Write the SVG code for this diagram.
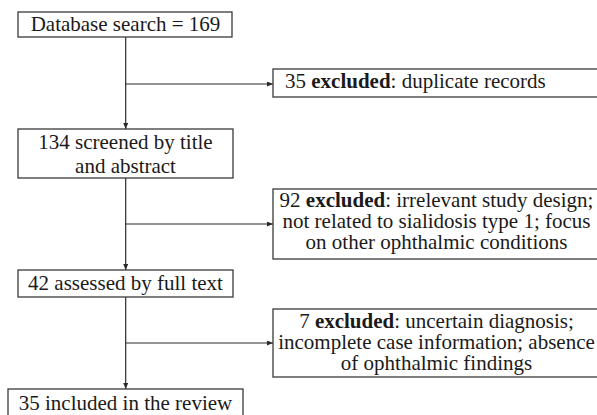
<svg xmlns="http://www.w3.org/2000/svg" width="597" height="415" viewBox="0 0 597 415">
<style>
.box{fill:#fff;stroke:#3a3a3a;stroke-width:1.3}
.t{font-family:"Liberation Serif","Times New Roman",serif;font-size:21px;fill:#1a1a1a}
.c{text-anchor:middle}
.b{font-weight:bold}
.ln{stroke:#2a2a2a;stroke-width:1.2;fill:none}
</style>
<defs>
<marker id="ah" markerUnits="userSpaceOnUse" markerWidth="6" markerHeight="5" refX="6" refY="2.5" orient="auto">
<path d="M0,0 L6,2.5 L0,5 z" fill="#2a2a2a"/>
</marker>
</defs>
<rect width="597" height="415" fill="#fff"/>
<g id="connectors">
<line class="ln" x1="125.7" y1="37" x2="125.7" y2="129" marker-end="url(#ah)"/>
<line class="ln" x1="125.7" y1="84" x2="273" y2="84" marker-end="url(#ah)"/>
<line class="ln" x1="125.7" y1="178" x2="125.7" y2="270" marker-end="url(#ah)"/>
<line class="ln" x1="125.7" y1="224" x2="273" y2="224" marker-end="url(#ah)"/>
<line class="ln" x1="125.7" y1="297" x2="125.7" y2="389" marker-end="url(#ah)"/>
<line class="ln" x1="125.7" y1="343" x2="273" y2="343" marker-end="url(#ah)"/>
</g>
<g id="n1">
<rect class="box" x="18" y="12" width="214" height="25"/>
<text class="t c" x="125.5" y="31">Database search = 169</text>
</g>
<g id="n2">
<rect class="box" x="273" y="69" width="330" height="28"/>
<text class="t" x="285" y="88">35 <tspan class="b">excluded</tspan>: duplicate records</text>
</g>
<g id="n3">
<rect class="box" x="18" y="129" width="215" height="49"/>
<text class="t c" x="125.5" y="149">134 screened by title</text>
<text class="t c" x="125.5" y="173">and abstract</text>
</g>
<g id="n4">
<rect class="box" x="273" y="189" width="330" height="70"/>
<text class="t c" x="436.5" y="207">92 <tspan class="b">excluded</tspan>: irrelevant study design;</text>
<text class="t c" x="436.5" y="228">not related to sialidosis type 1; focus</text>
<text class="t c" x="436.5" y="249">on other ophthalmic conditions</text>
</g>
<g id="n5">
<rect class="box" x="18" y="270" width="215" height="27"/>
<text class="t c" x="125.5" y="290">42 assessed by full text</text>
</g>
<g id="n6">
<rect class="box" x="273" y="309" width="330" height="68"/>
<text class="t c" x="436.5" y="328">7 <tspan class="b">excluded</tspan>: uncertain diagnosis;</text>
<text class="t c" x="436.5" y="348.5">incomplete case information; absence</text>
<text class="t c" x="436.5" y="369.5">of ophthalmic findings</text>
</g>
<g id="n7">
<rect class="box" x="8" y="389" width="235" height="30"/>
<text class="t c" x="125.5" y="410">35 included in the review</text>
</g>
</svg>
